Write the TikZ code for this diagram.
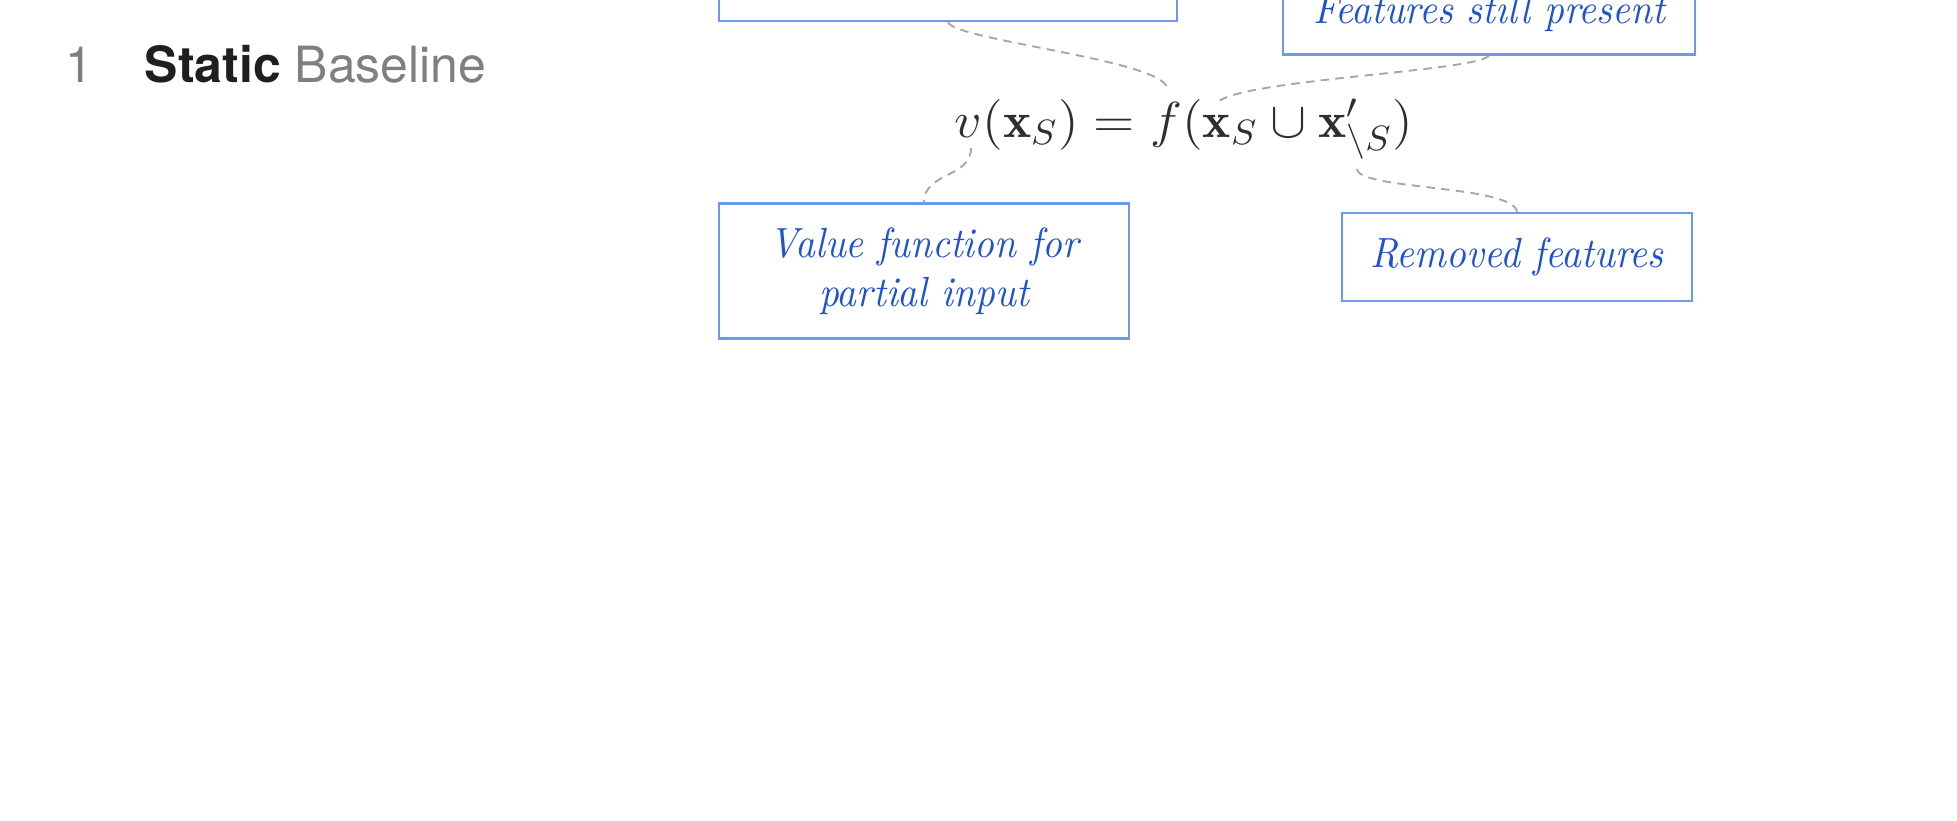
\documentclass[tikz,border=0pt]{standalone}
\usepackage{graphicx}
\usepackage{fontspec}
\setsansfont{TeX Gyre Heros}
\newfontfamily\boxfont[FakeStretch=0.92]{lmroman10-italic.otf}
\usetikzlibrary{positioning}
\definecolor{boxblue}{HTML}{6A9BEA}
\definecolor{noteblue}{HTML}{1F52CF}
\definecolor{linkgray}{HTML}{A8A8A8}
\definecolor{headgray}{HTML}{7F7F7F}

\begin{document}
\begin{tikzpicture}[
x=0.01cm,
y=-0.01cm,
note/.style={
draw=boxblue,
line width=0.6pt,
text=noteblue,
align=center,
font=\boxfont\fontsize{12}{14}\selectfont,
inner sep=0pt
},
link/.style={
draw=linkgray,
line width=0.55pt,
dash pattern=on 2.4pt off 1.8pt
}
]
\useasboundingbox (0,0) rectangle (1957,821);

% heading
\node[anchor=base west, inner sep=0pt, text=headgray,
font=\sffamily\fontsize{14.2}{17}\selectfont] (num) at (65,82) {1};
\node[anchor=base west, inner sep=0pt, text=headgray,
font=\sffamily\fontsize{14.2}{17}\selectfont] (title) at (144,82)
{\textcolor{black!88}{\bfseries Static} Baseline};

% formula
\node[anchor=base, inner sep=0pt, text=black!82,
font=\fontsize{14.2}{17}\selectfont] (eq) at (1184,137)
{\scalebox{1.07}[1]{$v(\mathbf{x}_S) = f(\mathbf{x}_S \cup \mathbf{x}'_{\setminus S})$}};

% callouts
\node[note, minimum width=4.58cm, minimum height=0.88cm] (top) at (948,-23) {};
\node[note, minimum width=4.12cm, minimum height=0.83cm] (kept) at (1489,13)
{Features still present};
\node[note, minimum width=4.10cm, minimum height=1.35cm] (value) at (924,271)
{Value function for\\partial input};
\node[note, minimum width=3.49cm, minimum height=0.88cm] (removed) at (1517,257)
{Removed features};

% points on the formula
\coordinate (fmark) at (1167,88);
\coordinate (xmark) at (1216,105);
\coordinate (vmark) at (971,148);
\coordinate (smark) at (1357,169);

\draw[link] (top.south) .. controls (953,40) and (1163,60) .. (fmark);
\draw[link] (kept.south) .. controls (1478,72) and (1222,80) .. (xmark);
\draw[link] (vmark) .. controls (971,178) and (924,172) .. (value.north);
\draw[link] (smark) .. controls (1358,190) and (1514,185) .. (removed.north);

\end{tikzpicture}
\end{document}
